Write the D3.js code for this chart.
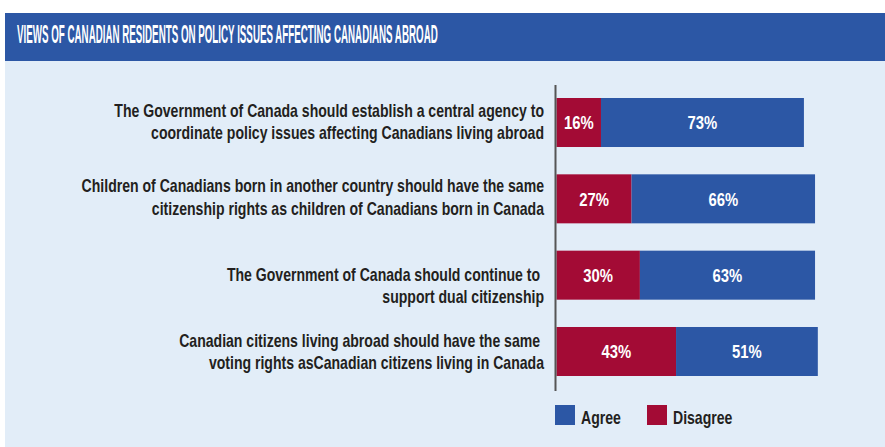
<!DOCTYPE html>
<html>
<head>
<meta charset="utf-8">
<script src="https://cdn.jsdelivr.net/npm/d3@7"></script>
<style>
  body { margin: 0; background: #fff; }
  text { font-family: "Liberation Sans", Arial, sans-serif; font-weight: bold; }
</style>
</head>
<body>
<script>
const statements = [
  ["The Government of Canada should establish a central agency to", "coordinate policy issues affecting Canadians living abroad"],
  ["Children of Canadians born in another country should have the same", "citizenship rights as children of Canadians born in Canada"],
  ["The Government of Canada should continue to ", "support dual citizenship"],
  ["Canadian citizens living abroad should have the same ", "voting rights asCanadian citizens living in Canada"]
];
const disagree = [16, 27, 30, 43];
const agree = [73, 66, 63, 51];
const seriesNames = ["Agree", "Disagree"];
const title = "VIEWS OF CANADIAN RESIDENTS ON POLICY ISSUES AFFECTING CANADIANS ABROAD";

const width = 885,
  height = 447;

const colors = { Agree: "#2c57a5", Disagree: "#a30b35" };

const svg = d3.select("body")
  .append("svg")
  .attr("width", width)
  .attr("height", height);

// the original uses a condensed face; squeeze a regular one horizontally
function measure(str, size) {
  const t = svg.append("text").attr("font-size", size).style("white-space", "pre").text(str);
  const w = t.node().getComputedTextLength();
  t.remove();
  return w;
}
const squeeze = 430 / measure(statements[0][0], 18);
const titleSqueeze = 421 / measure(title, 25);
const condense = (cx, f) => `translate(${cx},0) scale(${f},1) translate(${-cx},0)`;

// background panel + header band
svg.append("rect")
  .attr("x", 5).attr("y", 61)
  .attr("width", width - 5).attr("height", height - 61)
  .attr("fill", "#e2edf8");

svg.append("rect")
  .attr("x", 5).attr("y", 13)
  .attr("width", width - 5).attr("height", 48)
  .attr("fill", "#2c57a5");

svg.append("text")
  .attr("x", 17).attr("y", 43)
  .attr("fill", "#fff")
  .attr("font-size", 25)
  .attr("transform", condense(17, titleSqueeze))
  .text(title);

const rows = statements.map((s, i) => ({
  label: s,
  key: i,
  Disagree: disagree[i],
  Agree: agree[i]
}));

const x = d3.scaleLinear().domain([0, 100]).range([556.5, 834.5]);
const y = d3.scaleBand()
  .domain(rows.map(d => d.key))
  .range([98, 376])
  .paddingInner(0.358);

// label vertical nudges (third label sits lower in the original)
const labelShift = [0, -1, 11, 1];

const row = svg.selectAll("g.row")
  .data(rows)
  .enter()
  .append("g")
  .attr("class", "row");

row.append("rect")
  .attr("x", x(0))
  .attr("y", d => y(d.key))
  .attr("width", d => x(d.Disagree) - x(0))
  .attr("height", y.bandwidth())
  .attr("fill", colors.Disagree);

row.append("rect")
  .attr("x", d => x(d.Disagree))
  .attr("y", d => y(d.key))
  .attr("width", d => x(d.Disagree + d.Agree) - x(d.Disagree))
  .attr("height", y.bandwidth())
  .attr("fill", colors.Agree);

const pctLabel = (g, cx, v) => g.append("text")
  .attr("x", cx)
  .attr("y", d => y(d.key) + y.bandwidth() / 2 + 7)
  .attr("text-anchor", "middle")
  .attr("fill", "#fff")
  .attr("font-size", 19)
  .attr("transform", d => condense(cx(d), squeeze))
  .text(d => v(d) + "%");

pctLabel(row, d => (x(0) + x(d.Disagree)) / 2, d => d.Disagree);
pctLabel(row, d => (x(d.Disagree) + x(d.Disagree + d.Agree)) / 2, d => d.Agree);

row.append("text")
  .attr("text-anchor", "end")
  .attr("fill", "#231f20")
  .attr("font-size", 18)
  .attr("transform", condense(544, squeeze))
  .style("white-space", "pre")
  .selectAll("tspan")
  .data(d => d.label.map(l => ({ l, d })))
  .enter()
  .append("tspan")
  .attr("x", 544)
  .attr("y", (t, j) => y(t.d.key) + y.bandwidth() / 2 - 5.5 + labelShift[t.d.key] + j * 22.5)
  .text(t => t.l);

// vertical axis line
svg.append("line")
  .attr("x1", x(0) - 1).attr("x2", x(0) - 1)
  .attr("y1", y.range()[0] - 13)
  .attr("y2", y.range()[1] + 15)
  .attr("stroke", "#555")
  .attr("stroke-width", 2);

// legend
const legend = svg.selectAll("g.legend")
  .data(seriesNames)
  .enter()
  .append("g")
  .attr("class", "legend")
  .attr("transform", (d, i) => `translate(${555 + i * 92}, 405)`);

legend.append("rect")
  .attr("width", 20)
  .attr("height", 20)
  .attr("fill", d => colors[d]);

legend.append("text")
  .attr("x", 26)
  .attr("y", 19)
  .attr("fill", "#231f20")
  .attr("font-size", 18)
  .attr("transform", condense(26, squeeze))
  .text(d => d);
</script>
</body>
</html>
